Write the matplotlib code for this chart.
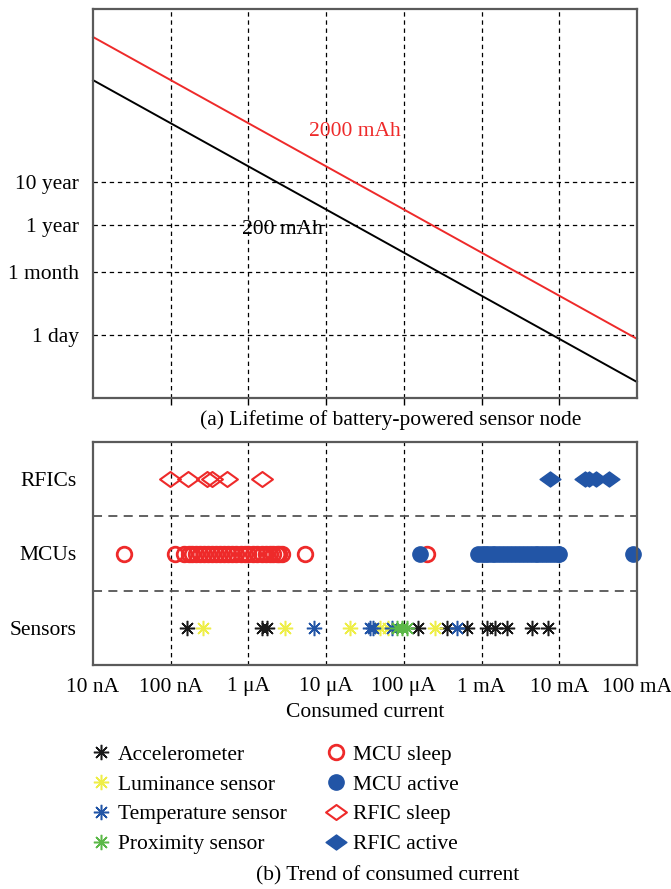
import numpy as np
import matplotlib
matplotlib.use('Agg')
import matplotlib.pyplot as plt
from matplotlib.lines import Line2D
from matplotlib.path import Path

plt.rcParams['font.family'] = ['Liberation Serif', 'DejaVu Serif']
FS = 15.5

# ---------------- data ----------------
current_range = [1e-8, 1e-1]                 # A
lifetime_200mAh = [2.0e7, 2.0]               # hours at current_range ends
lifetime_2000mAh = [2.0e8, 20.0]             # hours at current_range ends
lifetime_ticks_h = [24, 720, 8760, 87600]
lifetime_labels = ['1 day', '1 month', '1 year', '10 year']
current_ticks = [1e-8, 1e-7, 1e-6, 1e-5, 1e-4, 1e-3, 1e-2, 1e-1]
current_labels = ['10 nA', '100 nA', '1 μA', '10 μA', '100 μA', '1 mA', '10 mA', '100 mA']
row_names = ['Sensors', 'MCUs', 'RFICs']

accelerometer = [163e-9, 1.5e-6, 1.75e-6, 154e-6, 357e-6, 645e-6, 1.17e-3, 1.49e-3,
                 2.1e-3, 4.4e-3, 7.2e-3]
luminance = [262e-9, 2.96e-6, 20e-6, 49e-6, 63e-6, 252e-6]
temperature = [7e-6, 37e-6, 40e-6, 70e-6, 480e-6]
proximity = [81e-6, 95e-6, 109e-6]
mcu_sleep = [25e-9, 115e-9, 150e-9, 170e-9, 190e-9, 210e-9, 240e-9, 270e-9, 300e-9,
             340e-9, 380e-9, 430e-9, 480e-9, 550e-9, 620e-9, 700e-9, 800e-9, 900e-9,
             1.0e-6, 1.15e-6, 1.3e-6, 1.5e-6, 1.7e-6, 1.9e-6, 2.1e-6, 2.3e-6, 2.5e-6,
             2.7e-6, 5.4e-6, 200e-6]
mcu_active = [160e-6, 0.9e-3, 1.0e-3, 1.1e-3, 1.2e-3, 1.35e-3, 1.5e-3, 1.7e-3, 1.9e-3,
              2.1e-3, 2.4e-3, 2.7e-3, 3.0e-3, 3.4e-3, 3.8e-3, 4.3e-3, 4.8e-3, 5.4e-3,
              6.0e-3, 6.8e-3, 7.6e-3, 8.5e-3, 9.5e-3, 10e-3, 90e-3]
rfic_sleep = [98e-9, 166e-9, 290e-9, 337e-9, 526e-9, 1.48e-6]
rfic_active = [7.6e-3, 21.5e-3, 24e-3, 30e-3, 44e-3]

# ---------------- style ----------------
RED = '#ee2a2a'
BLUE = '#2255a6'
YELLOW = '#eeee48'
GREEN = '#5cb848'
BLACK = '#1a1a1a'
SPINE = '#5a5a5a'
asterisk = (8, 2, 0)
wide_diamond = Path([(-1, 0), (0, 0.72), (1, 0), (0, -0.72), (-1, 0)],
                    [Path.MOVETO, Path.LINETO, Path.LINETO, Path.LINETO, Path.CLOSEPOLY])

W, H = 671, 889
fig = plt.figure(figsize=(W / 100, H / 100), dpi=100)

ax1 = fig.add_axes([93 / W, 1 - 398 / H, 544 / W, 389 / H])
ax2 = fig.add_axes([93 / W, 1 - 665 / H, 544 / W, 223 / H])

# ---------------- top panel ----------------
ax1.plot(current_range, lifetime_200mAh, color='black', lw=1.4, clip_on=False)
ax1.plot(current_range, lifetime_2000mAh, color=RED, lw=1.4, clip_on=False)
ax1.set_xscale('log')
ax1.set_yscale('log')
ax1.set_xlim(current_range)
ax1.set_ylim(10 ** -0.07, 10 ** 8.95)
ax1.set_xticks(current_ticks[1:-1])
ax1.set_xticklabels([])
ax1.set_yticks(lifetime_ticks_h)
ax1.set_yticklabels(lifetime_labels, fontsize=FS)
ax1.minorticks_off()
ax1.tick_params(axis='x', direction='out', length=5, width=1, color='black')
ax1.tick_params(axis='y', length=0, pad=10)
ax1.grid(True, which='major', color='black', ls=(0, (3.5, 3)), lw=0.9)
for s in ax1.spines.values():
    s.set_color(SPINE)
    s.set_linewidth(1.6)
ax1.text(2.7e-6, 7.0e3, '200 mAh', color='black', fontsize=FS, ha='center', va='center')
ax1.text(2.35e-5, 1.3e6, '2000 mAh', color=RED, fontsize=FS, ha='center', va='center')

# ---------------- bottom panel ----------------
y_s, y_m, y_r = 0.5, 1.5, 2.5
ms_ast = 11
mew_ast = 1.1
ax2.plot(accelerometer, [y_s] * len(accelerometer), ls='none', marker=asterisk,
         ms=ms_ast, mew=mew_ast, color=BLACK, label='Accelerometer')
ax2.plot(luminance, [y_s] * len(luminance), ls='none', marker=asterisk,
         ms=ms_ast, mew=mew_ast, color=YELLOW, label='Luminance sensor')
ax2.plot(temperature, [y_s] * len(temperature), ls='none', marker=asterisk,
         ms=ms_ast, mew=mew_ast, color=BLUE, label='Temperature sensor')
ax2.plot(proximity, [y_s] * len(proximity), ls='none', marker=asterisk,
         ms=ms_ast, mew=mew_ast, color=GREEN, label='Proximity sensor')
ax2.plot(mcu_sleep, [y_m] * len(mcu_sleep), ls='none', marker='o', ms=10.5,
         mfc='none', mec=RED, mew=2.0, label='MCU sleep', clip_on=False)
ax2.plot(mcu_active, [y_m] * len(mcu_active), ls='none', marker='o', ms=11,
         mfc=BLUE, mec=BLUE, mew=1, label='MCU active', clip_on=False)
ax2.plot(rfic_sleep, [y_r] * len(rfic_sleep), ls='none', marker=wide_diamond, ms=15,
         mfc='none', mec=RED, mew=1.5, label='RFIC sleep')
ax2.plot(rfic_active, [y_r] * len(rfic_active), ls='none', marker=wide_diamond, ms=15,
         mfc=BLUE, mec=BLUE, mew=1, label='RFIC active')

ax2.set_xscale('log')
ax2.set_xlim(current_range)
ax2.set_ylim(0, 3)
ax2.set_xticks(current_ticks)
ax2.set_xticklabels(current_labels, fontsize=FS)
ax2.minorticks_off()
ax2.set_yticks([y_s, y_m, y_r])
ax2.set_yticklabels(row_names, fontsize=FS)
ax2.tick_params(axis='x', length=0, pad=9)
ax2.tick_params(axis='y', length=0, pad=12)
for xv in current_ticks[1:-1]:
    ax2.axvline(xv, color='black', ls=(0, (3.5, 3)), lw=0.9, zorder=0)
for yv in [1, 2]:
    ax2.axhline(yv, color='#555555', ls=(0, (5, 3.5)), lw=1.3, zorder=0)
for s in ax2.spines.values():
    s.set_color(SPINE)
    s.set_linewidth(1.6)
ax2.set_xlabel('Consumed current', fontsize=FS, labelpad=5)

# legend
handles, labels = ax2.get_legend_handles_labels()
leg = fig.legend(handles, labels, ncol=2, loc='upper left',
                 bbox_to_anchor=(79 / W, 1 - 734 / H), frameon=False,
                 fontsize=FS, handlelength=1.0, handletextpad=0.3,
                 columnspacing=1.8, labelspacing=0.45, borderpad=0)

# captions
fig.text(391 / W, 1 - 420 / H, '(a) Lifetime of battery-powered sensor node',
         fontsize=FS, ha='center', va='center')
fig.text(388 / W, 1 - 876 / H, '(b) Trend of consumed current',
         fontsize=FS, ha='center', va='center')

fig.savefig('out.png', dpi=100)
